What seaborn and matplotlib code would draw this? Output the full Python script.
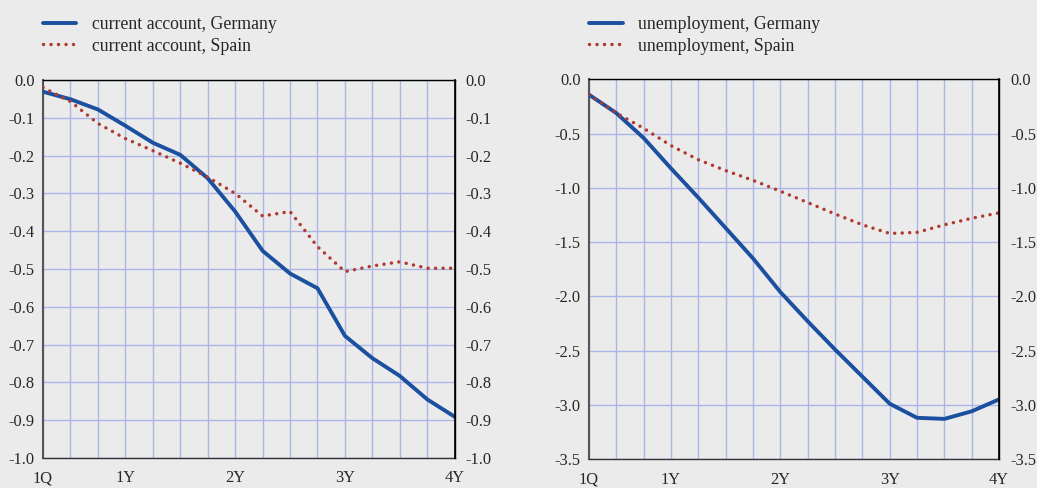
import numpy as np
import pandas as pd
import matplotlib
matplotlib.use("Agg")
import matplotlib.pyplot as plt
import seaborn as sns

sns.set_style("white")
plt.rcParams['font.family'] = ['Liberation Serif', 'DejaVu Serif']

# quarters after the shock: 1 = first quarter ... 16 = 4 years
quarters = list(range(1, 17))
tick_labels = {1: '1Q', 4: '1Y', 8: '2Y', 12: '3Y', 16: '4Y'}

ca_germany = [-0.031, -0.051, -0.078, -0.121, -0.166, -0.198, -0.260, -0.348,
              -0.452, -0.512, -0.551, -0.677, -0.736, -0.783, -0.845, -0.891]
ca_spain = [-0.020, -0.057, -0.115, -0.155, -0.187, -0.220, -0.257, -0.300,
            -0.360, -0.348, -0.441, -0.507, -0.492, -0.481, -0.498, -0.498]

un_germany = [-0.14, -0.31, -0.54, -0.82, -1.09, -1.37, -1.65, -1.96,
              -2.23, -2.49, -2.74, -2.99, -3.12, -3.13, -3.06, -2.95]
un_spain = [-0.14, -0.31, -0.45, -0.61, -0.74, -0.84, -0.93, -1.03,
            -1.135, -1.24, -1.34, -1.42, -1.41, -1.34, -1.28, -1.23]

BG = '#ebebeb'
BLUE = '#1b4f9f'
RED = '#b03a2e'
GRID = '#aab6e6'

fig = plt.figure(figsize=(10.37, 4.88), dpi=100, facecolor=BG)


def fmt(v):
    return '{:.1f}'.format(0.0 if abs(v) < 1e-9 else v)


def panel(rect, ger, spa, lab_ger, lab_spa, ylim, yticks, leg_x):
    ax = fig.add_axes(rect)
    ax.set_facecolor(BG)
    df = pd.DataFrame({'q': quarters, 'ger': ger, 'spa': spa})
    sns.lineplot(data=df, x='q', y='ger', ax=ax, color=BLUE, linewidth=2.8,
                 label=lab_ger, zorder=3)
    sns.lineplot(data=df, x='q', y='spa', ax=ax, color=RED, linewidth=2.5,
                 linestyle=(0, (0.01, 2.15)), dash_capstyle='round',
                 label=lab_spa, zorder=4)
    ax.set_xlim(1, 16)
    ax.set_ylim(*ylim)
    ax.set_xticks(quarters)
    ax.set_xticklabels([tick_labels.get(q, '') for q in quarters])
    ax.set_yticks(yticks)
    ax.set_yticklabels([fmt(v) for v in yticks])
    ax.set_xlabel('')
    ax.set_ylabel('')
    ax.grid(True, color=GRID, linewidth=1, zorder=0)
    ax.set_axisbelow(True)
    ax.tick_params(axis='y', length=0, pad=6, labelsize=11.8)
    ax.tick_params(axis='x', direction='out', length=5, width=1, color='#333333',
                   pad=4, labelsize=11.8)
    for s in ['top', 'right']:
        ax.spines[s].set_color('black')
        ax.spines[s].set_linewidth(1)
    ax.spines['left'].set_color('#555555')
    ax.spines['left'].set_linewidth(1.5)
    ax.spines['bottom'].set_color('#333333')
    ax.spines['bottom'].set_linewidth(1)

    ax2 = ax.twinx()
    ax2.set_ylim(*ylim)
    ax2.set_yticks(yticks)
    ax2.set_yticklabels([fmt(v) for v in yticks])
    ax2.tick_params(axis='y', length=0, pad=8, labelsize=11.8)
    for s in ax2.spines.values():
        s.set_visible(False)
    ax2.spines['right'].set_visible(True)
    ax2.spines['right'].set_color('black')
    ax2.spines['right'].set_linewidth(1.2)

    ax.legend(loc='upper left', bbox_to_anchor=(leg_x, 0.978),
              bbox_transform=fig.transFigure, frameon=False, fontsize=12.8,
              handlelength=1.9, handletextpad=0.85, labelspacing=0.25,
              borderaxespad=0, borderpad=0.3)
    return ax


panel([0.0415, 0.0615, 0.397, 0.7746], ca_germany, ca_spain,
      'current account, Germany', 'current account, Spain',
      (-1.0, 0.0), np.round(np.arange(-1.0, 0.01, 0.1), 1), 0.036)

panel([0.568, 0.0594, 0.3954, 0.7777], un_germany, un_spain,
      'unemployment, Germany', 'unemployment, Spain',
      (-3.5, 0.0), np.round(np.arange(-3.5, 0.01, 0.5), 1), 0.563)

fig.savefig('out.png', dpi=100, facecolor=BG)
